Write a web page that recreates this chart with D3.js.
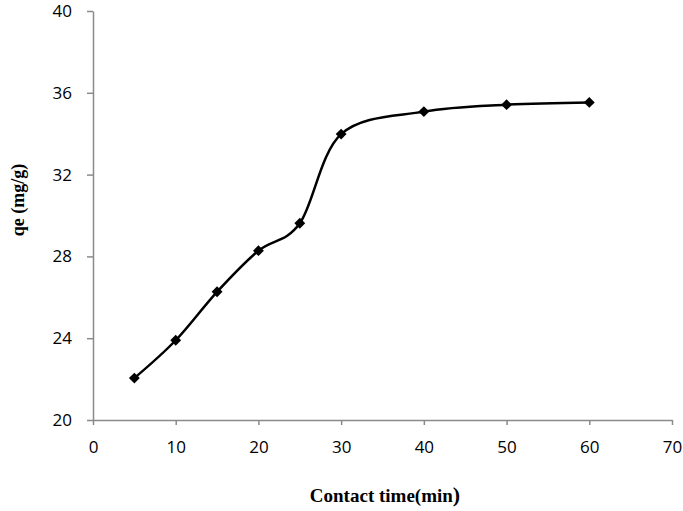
<!DOCTYPE html>
<html>
<head>
<meta charset="utf-8">
<script src="https://cdn.jsdelivr.net/npm/d3@7"></script>
<style>
  body { margin: 0; background: #fff; }
</style>
</head>
<body>
<div id="viz"></div>
<script>
let w = 683;
let h = 511;

// contact time (min) vs qe (mg/g)
let times = [5, 10, 15, 20, 25, 30, 40, 50, 60];
let qe = [22.05, 23.9, 26.27, 28.28, 29.62, 33.98, 35.08, 35.42, 35.53];
let xTicks = [0, 10, 20, 30, 40, 50, 60, 70];
let yTicks = [20, 24, 28, 32, 36, 40];

let data = times.map((t, i) => ({ t: t, q: qe[i] }));

let svg = d3.select("#viz").append("svg")
  .attr("width", w)
  .attr("height", h);

let xScale = d3.scaleLinear().domain([0, 70]).range([93, 672]);
let yScale = d3.scaleLinear().domain([20, 40]).range([420, 11]);

let axisColor = "#8a8a8a";
let tickFont = "'Open Sans', 'Noto Sans', sans-serif";

// x axis
let xAxis = d3.axisBottom(xScale).tickValues(xTicks).tickSize(5).tickSizeOuter(0).tickPadding(16);
let xg = svg.append("g").attr("transform", "translate(0,420)").call(xAxis);
xg.select(".domain").attr("stroke", axisColor).attr("stroke-width", 1.5);
xg.selectAll(".tick line").attr("stroke", axisColor).attr("stroke-width", 1.5);
xg.selectAll(".tick text").attr("font-family", tickFont).attr("font-size", 17).attr("fill", "#000");

// y axis
let yAxis = d3.axisLeft(yScale).tickValues(yTicks).tickSize(6).tickSizeOuter(0).tickPadding(15);
let yg = svg.append("g").attr("transform", "translate(93,0)").call(yAxis);
yg.select(".domain").attr("stroke", axisColor).attr("stroke-width", 1.5);
yg.selectAll(".tick line").attr("stroke", axisColor).attr("stroke-width", 1.5);
yg.selectAll(".tick text").attr("font-family", tickFont).attr("font-size", 17).attr("fill", "#000");

// smoothed line
let line = d3.line()
  .x(d => xScale(d.t))
  .y(d => yScale(d.q))
  .curve(d3.curveCardinal.tension(0));

svg.append("path")
  .datum(data)
  .attr("d", line)
  .attr("fill", "none")
  .attr("stroke", "#000")
  .attr("stroke-width", 2.5);

// diamond markers
let diamond = d3.symbol().type(d3.symbolDiamond2).size(75);
svg.selectAll(".pt")
  .data(data)
  .enter().append("path")
  .attr("class", "pt")
  .attr("d", diamond)
  .attr("transform", d => "translate(" + xScale(d.t) + "," + yScale(d.q) + ")")
  .attr("fill", "#000");

// axis titles
let xt = svg.append("text")
  .attr("x", 385)
  .attr("y", 502)
  .attr("text-anchor", "middle")
  .attr("font-family", "'Liberation Serif', 'Times New Roman', serif")
  .attr("font-weight", "bold")
  .attr("font-size", 19)
  .text("Contact time(min");
xt.append("tspan").attr("font-size", 22).text(")");

svg.append("text")
  .attr("transform", "translate(24,200) rotate(-90)")
  .attr("text-anchor", "middle")
  .attr("font-family", "'Liberation Serif', 'Times New Roman', serif")
  .attr("font-weight", "bold")
  .attr("font-size", 18)
  .text("qe (mg/g)");
</script>
</body>
</html>
